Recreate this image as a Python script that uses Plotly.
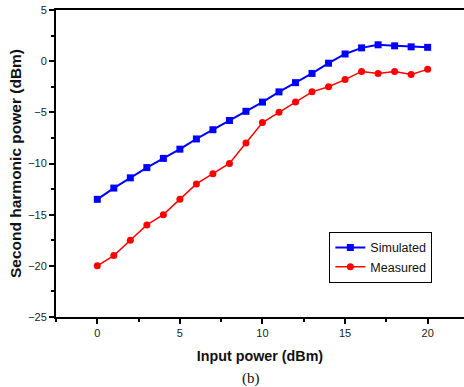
import plotly.graph_objects as go

input_power = list(range(0, 21))
simulated = [-13.5, -12.4, -11.4, -10.4, -9.5, -8.6, -7.6, -6.7, -5.8, -4.9, -4.0,
             -3.0, -2.1, -1.2, -0.2, 0.7, 1.3, 1.6, 1.5, 1.4, 1.35]
measured = [-20.0, -19.0, -17.5, -16.0, -15.0, -13.5, -12.0, -11.0, -10.0, -8.0, -6.0,
            -5.0, -4.0, -3.0, -2.5, -1.8, -1.0, -1.2, -1.0, -1.3, -0.8]

fig = go.Figure()
fig.add_trace(go.Scatter(x=input_power, y=simulated, mode="lines+markers", name="Simulated",
                         line=dict(color="#0000ff", width=2),
                         marker=dict(symbol="square", size=7, color="#0000ff")))
fig.add_trace(go.Scatter(x=input_power, y=measured, mode="lines+markers", name="Measured",
                         line=dict(color="#ff0000", width=1.5),
                         marker=dict(symbol="circle", size=7, color="#ff0000")))

axis_font = dict(family="Liberation Sans, Arial", size=11, color="#222")

fig.update_layout(
    width=464, height=387,
    margin=dict(l=56, r=0, t=10, b=70),
    plot_bgcolor="white", paper_bgcolor="white",
    showlegend=True,
    legend=dict(x=0.67, y=0.277, xanchor="left", yanchor="top",
                bordercolor="black", borderwidth=1, bgcolor="white",
                font=dict(family="Liberation Sans, Arial", size=12.5, color="#111"),
                tracegroupgap=0, itemwidth=30),
    xaxis=dict(range=[-2.5, 22.2], tickvals=[0, 5, 10, 15, 20], ticks="outside", ticklen=5,
               tickwidth=1.5, tickcolor="black", showline=True, linecolor="black", linewidth=2,
               mirror=True, showgrid=False, zeroline=False, tickfont=axis_font,
               minor=dict(tickvals=[-2.5, 2.5, 7.5, 12.5, 17.5], ticks="outside", ticklen=3,
                          tickcolor="black", tickwidth=1.5, showgrid=False),
               title=dict(text="<b>Input power (dBm)</b>", standoff=13,
                          font=dict(family="Liberation Sans, Arial", size=14.3, color="#111"))),
    yaxis=dict(range=[-25, 5], dtick=5, ticks="outside", ticklen=5, tickwidth=1.5,
               tickcolor="black", showline=True, linecolor="black", linewidth=2,
               showgrid=False, zeroline=False, tickfont=axis_font,
               minor=dict(dtick=2.5, ticks="outside", ticklen=3, tickcolor="black",
                          tickwidth=1.5, showgrid=False),
               title=dict(text="<b>Second harmonic power (dBm)</b>", standoff=3,
                          font=dict(family="Liberation Sans, Arial", size=15.5, color="#111"))),
)

fig.add_annotation(text="(b)", xref="paper", yref="paper", x=(251 - 56) / 408, y=-(378 - 317) / 307,
                   showarrow=False, font=dict(family="Liberation Serif, Times New Roman", size=15, color="#111"),
                   xanchor="center", yanchor="middle")

fig.write_html("out.html")
